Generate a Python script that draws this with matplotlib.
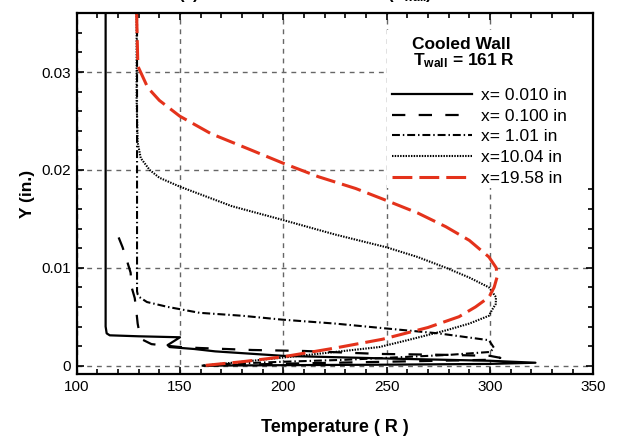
import matplotlib
matplotlib.use("Agg")
import matplotlib.pyplot as plt
from matplotlib.patches import Rectangle
from matplotlib.ticker import MultipleLocator

plt.rcParams['font.family'] = ['Liberation Sans', 'DejaVu Sans']
plt.rcParams['mathtext.fontset'] = 'custom'
plt.rcParams['mathtext.rm'] = 'Liberation Sans:bold'
plt.rcParams['mathtext.it'] = 'Liberation Sans:bold'
plt.rcParams['mathtext.bf'] = 'Liberation Sans:bold'

# Perfiles de temperatura (T en R, Y en pulgadas)
labels = ['x= 0.010 in', 'x= 0.100 in', 'x= 1.01 in', 'x=10.04 in', 'x=19.58 in']

T_010 = [114, 114, 114.5, 116, 130, 150, 147, 144, 145, 157, 167, 200, 256, 300, 322,
         300, 250, 200, 161]
Y_010 = [0.036, 0.0040, 0.0033, 0.0031, 0.0030, 0.0029, 0.0025, 0.0021, 0.0019, 0.0017,
         0.00146, 0.0010, 0.0007, 0.0005, 0.0003, 0.00018, 0.0001, 0.00005, 0.0]

T_100 = [120.3, 122.2, 124.2, 126.1, 126.6, 128.1, 129.0, 129.5, 130.3, 131.4, 136.2, 150,
         160, 185, 210, 246, 280, 300, 305, 300, 250, 200, 161]
Y_100 = [0.0131, 0.0121, 0.0108, 0.0095, 0.0080, 0.0069, 0.0053, 0.0043, 0.0034, 0.0027,
         0.0022, 0.0019, 0.0018, 0.0016, 0.0015, 0.0012, 0.0011, 0.0010, 0.0008, 0.0006,
         0.0004, 0.0002, 0.0]

T_101 = [129.2, 129.2, 129.5, 130.4, 134, 144.1, 159.4, 180, 199.5, 225, 249.8, 275, 299.5,
         302, 300, 280, 260, 230, 200, 175, 161]
Y_101 = [0.036, 0.0076, 0.0073, 0.0070, 0.0065, 0.0060, 0.0054, 0.0051, 0.0047, 0.0043,
         0.0038, 0.0033, 0.0026, 0.0018, 0.0014, 0.0011, 0.0009, 0.0006, 0.0004, 0.0002, 0.0]

T_1004 = [129, 129, 129.5, 131, 135.3, 140, 149.8, 175, 199.5, 225, 249.8, 265, 278.7, 290,
          299.5, 302.9, 302.8, 301, 299.5, 290, 278.6, 260, 246.4, 225, 207.7, 185, 161]
Y_1004 = [0.036, 0.0272, 0.0228, 0.0212, 0.0200, 0.0192, 0.0183, 0.0163, 0.0149, 0.0134,
          0.0121, 0.0111, 0.0100, 0.0090, 0.0080, 0.0070, 0.0063, 0.0057, 0.0051, 0.0043,
          0.0036, 0.0026, 0.0019, 0.0014, 0.0010, 0.0005, 0.0]

T_1958 = [129, 129.6, 134.4, 140, 149.8, 165, 183.6, 199.7, 217, 235, 249.6, 265, 278.6, 290,
          299.5, 303, 303.5, 302, 299.5, 293, 285, 270, 248, 225, 199.7, 180, 161]
Y_1958 = [0.036, 0.0306, 0.0284, 0.0271, 0.0255, 0.0237, 0.0221, 0.0207, 0.0193, 0.0181,
          0.0169, 0.0156, 0.0142, 0.0128, 0.0111, 0.0100, 0.0091, 0.0080, 0.0070, 0.0060,
          0.0050, 0.0039, 0.0027, 0.0018, 0.0009, 0.0004, 0.0]

red = '#e4321b'

fig = plt.figure(figsize=(6.17, 4.43), dpi=100)
ax = fig.add_axes([0.1243, 0.1558, 0.8373, 0.8142])

ax.plot(T_010, Y_010, color='black', lw=1.6, ls='-', label=labels[0])
ax.plot(T_100, Y_100, color='black', lw=1.6, ls=(0, (6, 6)), label=labels[1])
ax.plot(T_101, Y_101, color='black', lw=1.5, ls=(0, (3.8, 1.4, 0.7, 1.4)), label=labels[2])
ax.plot(T_1004, Y_1004, color='black', lw=1.5, ls=(0, (0.7, 0.6)), label=labels[3])
ax.plot(T_1958, Y_1958, color=red, lw=2.2, ls=(0, (6.5, 2.3)), label=labels[4])

ax.set_xlim(100, 350)
ax.set_ylim(-0.00085, 0.036)
ax.xaxis.set_major_locator(MultipleLocator(50))
ax.xaxis.set_minor_locator(MultipleLocator(10))
ax.yaxis.set_major_locator(MultipleLocator(0.01))
ax.yaxis.set_minor_locator(MultipleLocator(0.002))
ax.set_yticks([0, 0.01, 0.02, 0.03])
ax.set_yticklabels(['0', '0.01', '0.02', '0.03'])

ax.set_axisbelow(True)
ax.grid(True, which='major', color='#666666', ls=(0, (3.5, 3.5)), lw=1.0)
ax.tick_params(which='both', direction='in', top=True, right=True, width=1.2,
               labelsize=11, pad=4)
ax.tick_params(which='major', length=5)
ax.tick_params(which='minor', length=3.5)
for s in ax.spines.values():
    s.set_linewidth(1.6)

ax.set_xlabel('Temperature ( R )', fontsize=13, fontweight='bold', labelpad=18)
ax.set_ylabel('Y (in.)', fontsize=12.5, fontweight='bold', labelpad=5)

# Fondo blanco de la leyenda
ax.add_patch(Rectangle((250.2, 0.0181), 102, 0.0162, facecolor='white', edgecolor='none',
                       zorder=1))
ax.text(262.3, 0.0324, 'Cooled Wall', fontsize=12.5, fontweight='bold', va='baseline', zorder=3)
ax.text(262.8, 0.0307, r'T$_{wall}$ = 161 R', fontsize=12.5, fontweight='bold',
        va='baseline', zorder=3)
ax.legend(loc='upper left', bbox_to_anchor=(0.6033, 0.803), frameon=False, fontsize=12.5,
          handlelength=4.6, handletextpad=0.55, labelspacing=0.32, borderpad=0.2,
          borderaxespad=0)

fig.text(0.495, 1 + 0.5 / 443, r'(a) Cooled Wall Heat Load (T$_{wall}$)', fontsize=12,
         fontweight='bold', ha='center', va='baseline')

fig.savefig('out.png', dpi=100)
